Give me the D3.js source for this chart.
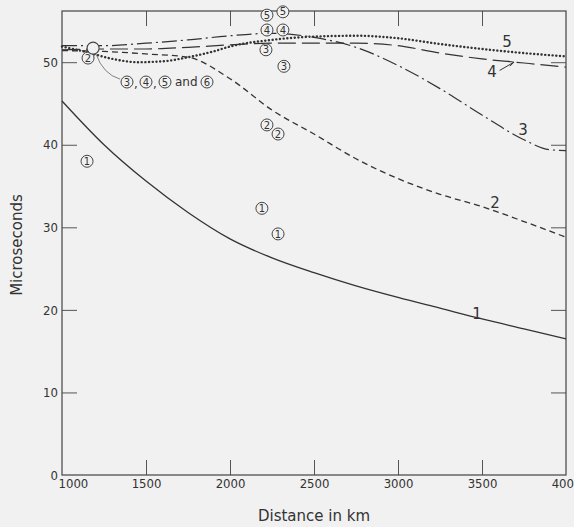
<!DOCTYPE html>
<html>
<head lang="en">
    <meta charset="UTF-8">
    <title>Microseconds vs distance</title>
    <script src="https://cdn.jsdelivr.net/npm/d3@7"></script>
    <style>
        body { margin: 0; background: #f1f1f1; }
        svg { display: block; background: #f1f1f1; }
        text { font-family: "Liberation Sans Narrow", "DejaVu Sans Condensed", sans-serif; fill: #333; }
        .tick text { font-size: 13px; }
        .tick line { stroke: #555; }
        .curve { fill: none; stroke: #333; }
    </style>
</head>
<body>
<script>

    // distance (km) at each sample point of the curves
    var dist1 = [1000, 1250, 1500, 1750, 2000, 2250, 2500, 2750, 3000, 3250, 3500, 3750, 4000];
    var curve1 = [45.3, 40.0, 35.6, 31.8, 28.6, 26.3, 24.5, 22.9, 21.5, 20.2, 18.9, 17.7, 16.5];
    var curve2 = [51.4, 51.3, 51.0, 50.6, 48.0, 44.2, 41.3, 38.3, 35.9, 34.0, 32.5, 30.7, 28.8];
    var curve4 = [51.5, 51.6, 51.6, 51.8, 52.1, 52.3, 52.3, 52.3, 52.0, 51.1, 50.4, 49.9, 49.4];

    var dist3 = [1000, 1250, 1500, 1750, 2000, 2250, 2500, 2750, 3000, 3250, 3500, 3750, 3900, 4000];
    var curve3 = [52.0, 52.0, 52.3, 52.7, 53.2, 53.5, 53.0, 51.8, 49.6, 46.8, 43.6, 40.6, 39.4, 39.3];

    var dist5 = [1000, 1150, 1300, 1450, 1600, 1750, 1900, 2000, 2250, 2500, 2750, 3000, 3250, 3500, 3750, 4000];
    var curve5 = [51.9, 51.2, 50.4, 50.0, 50.1, 50.6, 51.3, 51.9, 52.7, 53.1, 53.2, 52.9, 52.2, 51.6, 51.1, 50.7];

    // circled measurement points
    var pointLabels = ["1", "2", "3", "3", "4", "4", "5", "5", "2", "2", "1", "1"];
    var pointDist = [1149, 1155, 2214, 2321, 2220, 2315, 2220, 2315, 2220, 2286, 2190, 2286];
    var pointVal = [38.0, 50.5, 51.5, 49.5, 53.9, 53.9, 55.7, 56.1, 42.4, 41.3, 32.3, 29.2];

    // curve number labels: text, distance, value (baseline)
    var curveLabelText = ["1", "2", "3", "4", "5"];
    var curveLabelDist = [3470, 3577, 3744, 3559, 3649];
    var curveLabelVal = [18.9, 32.3, 41.2, 48.2, 51.8];

    var xTicks = [1000, 1500, 2000, 2500, 3000, 3500, 4000];
    var yTicks = [0, 10, 20, 30, 40, 50];

    var width = 574, height = 527;
    var mLeft = 62, mRight = 566, mTop = 11, mBottom = 475;

    var svg = d3.select("body").append("svg")
            .attr("width", width)
            .attr("height", height);

    var x = d3.scaleLinear().domain([1000, 4000]).range([mLeft, mRight]);
    var y = d3.scaleLinear().domain([0, 56.2]).range([mBottom, mTop]);

    // axes, ticks drawn inward
    var xb = svg.append("g").attr("transform", "translate(0," + mBottom + ")")
            .call(d3.axisBottom(x).tickValues(xTicks).tickSize(-15).tickPadding(4).tickFormat(d3.format("d")));
    xb.selectAll(".tick").filter(function(d) { return d == 1000 || d == 4000; }).select("line").remove();
    xb.selectAll(".tick text").filter(function(d) { return d == 1000; }).attr("text-anchor", "start").attr("x", -4);

    svg.append("g").attr("transform", "translate(0," + mTop + ")")
            .call(d3.axisTop(x).tickValues(xTicks.slice(1, -1)).tickSize(-15).tickFormat(""));

    var yl = svg.append("g").attr("transform", "translate(" + mLeft + ",0)")
            .call(d3.axisLeft(y).tickValues(yTicks).tickSize(-15).tickPadding(4));
    yl.selectAll(".tick").filter(function(d) { return d == 0; }).select("line").remove();

    svg.append("g").attr("transform", "translate(" + mRight + ",0)")
            .call(d3.axisRight(y).tickValues(yTicks.slice(1)).tickSize(-15).tickFormat(""));

    svg.selectAll(".domain").remove();

    svg.append("rect")
            .attr("x", mLeft).attr("y", mTop)
            .attr("width", mRight - mLeft).attr("height", mBottom - mTop)
            .attr("fill", "none").attr("stroke", "#444").attr("stroke-width", 1.2);

    // curves
    var line = d3.line().curve(d3.curveMonotoneX);

    function draw(ds, vs, dash, w, cap) {
        svg.append("path")
                .attr("class", "curve")
                .attr("d", line(ds.map(function(d, i) { return [x(d), y(vs[i])]; })))
                .attr("stroke-width", w)
                .attr("stroke-dasharray", dash)
                .attr("stroke-linecap", cap || "butt");
    }

    draw(dist1, curve1, null, 1.3);
    draw(dist1, curve2, "6 4", 1.3);
    draw(dist3, curve3, "15 4 2 4", 1.2);
    draw(dist1, curve4, "18 6", 1.2);
    draw(dist5, curve5, "0.1 3.6", 2.4, "round");

    // curve labels
    svg.selectAll("text.clab").data(curveLabelText).enter().append("text")
            .attr("class", "clab")
            .attr("x", function(d, i) { return x(curveLabelDist[i]); })
            .attr("y", function(d, i) { return y(curveLabelVal[i]); })
            .attr("text-anchor", "middle")
            .style("font-size", "15px")
            .style("font-family", "DejaVu Sans, sans-serif")
            .text(function(d) { return d; });

    // arrow from label 4 to its curve
    var ax0 = x(3605), ay0 = y(49.0), ax1 = x(3690), ay1 = y(50.0);
    svg.append("path")
            .attr("d", "M" + ax0 + "," + ay0 + " L" + ax1 + "," + ay1)
            .attr("stroke", "#333").attr("fill", "none").attr("stroke-width", 1);
    svg.append("path")
            .attr("d", "M" + (ax1 - 6) + "," + (ay1 - 1) + " L" + ax1 + "," + ay1 + " L" + (ax1 - 4) + "," + (ay1 + 4))
            .attr("stroke", "#333").attr("fill", "none").attr("stroke-width", 1);

    // circled points
    function circled(g, cx, cy, label) {
        g.append("circle").attr("cx", cx).attr("cy", cy).attr("r", 6)
                .attr("fill", "#f1f1f1").attr("stroke", "#444").attr("stroke-width", 1);
        g.append("text").attr("x", cx).attr("y", cy).attr("dy", "0.36em")
                .attr("text-anchor", "middle")
                .style("font-size", "10px")
                .style("font-family", "DejaVu Sans, sans-serif")
                .text(label);
    }

    var pts = svg.append("g");
    pointLabels.forEach(function(l, i) {
        circled(pts, x(pointDist[i]), y(pointVal[i]), l);
    });

    // big open circle with leader to its legend
    var bx = x(1185), by = y(51.7);
    svg.append("path")
            .attr("d", "M" + (bx + 3) + "," + (by + 6) + " Q" + (bx + 10) + "," + (by + 26) + " " + (bx + 27) + "," + (by + 31))
            .attr("stroke", "#666").attr("fill", "none").attr("stroke-width", 0.8);
    svg.append("circle").attr("cx", bx).attr("cy", by).attr("r", 6)
            .attr("fill", "#f1f1f1").attr("stroke", "#444").attr("stroke-width", 1.1);

    var lg = svg.append("g");
    var ly = 82;
    circled(lg, 127, ly, "3");
    lg.append("text").attr("x", 134).attr("y", ly + 6).style("font-size", "13px").text(",");
    circled(lg, 146, ly, "4");
    lg.append("text").attr("x", 153).attr("y", ly + 6).style("font-size", "13px").text(",");
    circled(lg, 165, ly, "5");
    lg.append("text").attr("x", 175).attr("y", ly + 4).style("font-size", "12px")
            .style("font-family", "DejaVu Sans, sans-serif").text("and");
    circled(lg, 207, ly, "6");

    // axis titles
    svg.append("text")
            .attr("x", (mLeft + mRight) / 2).attr("y", 521)
            .attr("text-anchor", "middle")
            .style("font-size", "15px")
            .style("font-family", "DejaVu Sans, sans-serif")
            .text("Distance  in  km");

    svg.append("text")
            .attr("transform", "translate(22,245) rotate(-90)")
            .attr("text-anchor", "middle")
            .style("font-size", "15px")
            .style("font-family", "DejaVu Sans, sans-serif")
            .text("Microseconds");

</script>
</body>
</html>
